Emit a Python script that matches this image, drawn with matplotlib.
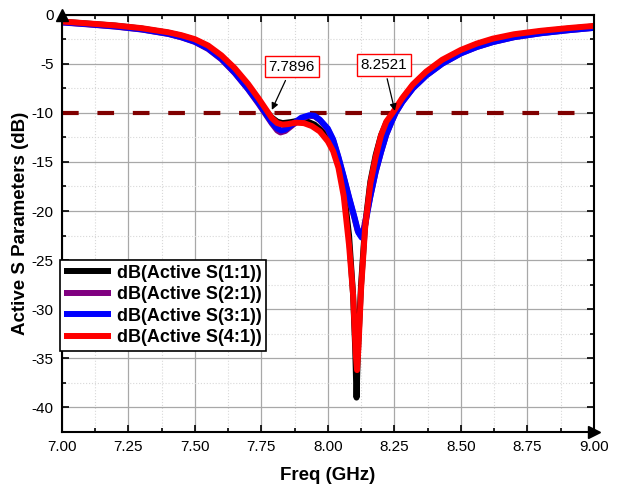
import numpy as np
import matplotlib.pyplot as plt
from matplotlib.ticker import MultipleLocator

plt.rcParams['font.family'] = ['Liberation Sans', 'DejaVu Sans']
plt.rcParams['axes.unicode_minus'] = False

# (GHz, dB)
f_s11 = [7.00, 7.10, 7.20, 7.30, 7.40, 7.45, 7.50, 7.55, 7.60, 7.65, 7.70, 7.74, 7.77, 7.79,
         7.81, 7.83, 7.86, 7.89, 7.92, 7.95, 7.98, 8.00, 8.02, 8.04, 8.06, 8.08, 8.095, 8.103,
         8.108, 8.113, 8.125, 8.14, 8.16, 8.18, 8.20, 8.22, 8.25, 8.28, 8.32, 8.37, 8.43, 8.50,
         8.56, 8.62, 8.70, 8.80, 8.90, 9.00]
s11 = [-0.72, -0.92, -1.12, -1.42, -1.85, -2.16, -2.58, -3.25, -4.3, -5.65, -7.25, -8.75, -9.9, -10.5,
       -10.9, -11.05, -10.95, -10.8, -10.85, -11.2, -11.9, -12.6, -13.6, -15.2, -17.8, -22.5, -28.5, -34.0,
       -39.0, -34.5, -27.5, -21.5, -17.0, -14.3, -12.3, -11.0, -9.95, -8.6, -7.2, -5.9, -4.7, -3.7,
       -3.05, -2.55, -2.1, -1.72, -1.45, -1.2]

f_s21 = [7.00, 7.10, 7.20, 7.30, 7.40, 7.45, 7.50, 7.55, 7.60, 7.65, 7.70, 7.74, 7.77, 7.79,
         7.81, 7.822, 7.84, 7.87, 7.90, 7.93, 7.95, 7.97, 8.00, 8.02, 8.04, 8.06, 8.08, 8.10,
         8.112, 8.122, 8.135, 8.16, 8.18, 8.20, 8.22, 8.24, 8.255, 8.28, 8.32, 8.37, 8.43, 8.50,
         8.56, 8.62, 8.70, 8.80, 8.90, 9.00]
s21 = [-0.8, -1.0, -1.22, -1.52, -1.97, -2.32, -2.78, -3.5, -4.55, -5.95, -7.6, -9.1, -10.3, -11.1,
       -11.8, -12.0, -11.85, -11.2, -10.6, -10.3, -10.35, -10.75, -11.7, -12.8, -14.6, -16.6, -18.7, -20.7,
       -22.0, -22.4, -21.8, -18.5, -16.0, -14.0, -12.2, -10.9, -10.0, -8.9, -7.5, -6.2, -5.0, -3.95,
       -3.3, -2.8, -2.3, -1.9, -1.6, -1.35]

f_s31 = [7.00, 7.10, 7.20, 7.30, 7.40, 7.45, 7.50, 7.55, 7.60, 7.65, 7.70, 7.74, 7.77, 7.79,
         7.81, 7.825, 7.84, 7.87, 7.90, 7.93, 7.95, 7.97, 8.00, 8.02, 8.04, 8.06, 8.08, 8.10,
         8.115, 8.127, 8.14, 8.16, 8.18, 8.20, 8.22, 8.24, 8.255, 8.28, 8.32, 8.37, 8.43, 8.50,
         8.56, 8.62, 8.70, 8.80, 8.90, 9.00]
s31 = [-0.78, -0.98, -1.2, -1.5, -1.95, -2.3, -2.75, -3.45, -4.5, -5.9, -7.55, -9.0, -10.2, -11.0,
       -11.6, -11.8, -11.7, -11.1, -10.5, -10.25, -10.3, -10.7, -11.6, -12.7, -14.5, -16.5, -18.6, -20.6,
       -22.2, -22.7, -21.5, -18.5, -16.0, -14.0, -12.2, -10.9, -10.0, -8.9, -7.5, -6.2, -5.0, -3.95,
       -3.3, -2.8, -2.3, -1.9, -1.6, -1.35]

f_s41 = [7.00, 7.10, 7.20, 7.30, 7.40, 7.45, 7.50, 7.55, 7.60, 7.65, 7.70, 7.74, 7.77, 7.79,
         7.81, 7.83, 7.85, 7.88, 7.91, 7.94, 7.97, 8.00, 8.02, 8.04, 8.06, 8.08, 8.095, 8.105,
         8.11, 8.115, 8.125, 8.14, 8.16, 8.18, 8.20, 8.22, 8.245, 8.28, 8.32, 8.37, 8.43, 8.50,
         8.56, 8.62, 8.70, 8.80, 8.90, 9.00]
s41 = [-0.70, -0.90, -1.10, -1.38, -1.80, -2.10, -2.50, -3.15, -4.15, -5.45, -7.05, -8.55, -9.75, -10.55,
       -11.05, -11.2, -11.15, -11.0, -11.05, -11.35, -11.9, -12.9, -13.9, -15.6, -18.5, -23.5, -28.5, -34.5,
       -36.2, -34.0, -28.0, -21.8, -17.2, -14.5, -12.3, -10.9, -9.95, -8.5, -7.1, -5.8, -4.6, -3.6,
       -2.95, -2.45, -2.0, -1.65, -1.38, -1.15]

labels = ['dB(Active S(1:1))', 'dB(Active S(2:1))', 'dB(Active S(3:1))', 'dB(Active S(4:1))']
colors = ['black', '#800080', '#0000ff', '#ff0000']

marks = [7.7896, 8.2521]
threshold = -10

fig = plt.figure(figsize=(6.31, 4.87), dpi=100)
ax = fig.add_axes([0.098, 0.113, 0.843, 0.857])

for fx, sy, lab, c in zip([f_s11, f_s21, f_s31, f_s41], [s11, s21, s31, s41], labels, colors):
    ax.plot(fx, sy, color=c, lw=4.3, label=lab, solid_capstyle='butt')

ax.axhline(threshold, color='#800000', lw=3, dashes=[4, 4.5], zorder=1)

ax.set_xlim(7.0, 9.0)
ax.set_ylim(-42.5, 0)
ax.xaxis.set_major_locator(MultipleLocator(0.25))
ax.xaxis.set_minor_locator(MultipleLocator(0.125))
ax.yaxis.set_major_locator(MultipleLocator(5))
ax.yaxis.set_minor_locator(MultipleLocator(2.5))
ax.xaxis.set_major_formatter(plt.FormatStrFormatter('%.2f'))
ax.tick_params(which='both', direction='in', top=True, right=True, labelsize=11, width=1.2)
ax.tick_params(which='major', length=5, pad=6)
ax.tick_params(which='minor', length=3)
ax.grid(which='major', color='#a8a8a8', lw=0.9)
ax.grid(which='minor', color='#d8d8d8', lw=0.8, ls=':')
ax.set_axisbelow(True)
for s in ax.spines.values():
    s.set_linewidth(1.5)

# arrow heads on the axes ends
ax.plot(1, 0, '>k', ms=8, transform=ax.transAxes, clip_on=False)
ax.plot(0, 1, '^k', ms=8, transform=ax.transAxes, clip_on=False)

ax.set_xlabel('Freq (GHz)', fontsize=13.5, fontweight='bold', labelpad=9)
ax.set_ylabel('Active S Parameters (dB)', fontsize=13.5, fontweight='bold', labelpad=2)

box = dict(boxstyle='square,pad=0.25', fc='white', ec='red', lw=1)
arr = dict(arrowstyle='-|>', color='black', lw=0.9, mutation_scale=10, shrinkA=2, shrinkB=0)
ax.annotate(f'{marks[0]:.4f}', xy=(marks[0], -9.7), xytext=(7.865, -5.3), fontsize=11,
            ha='center', va='center', bbox=box, arrowprops=arr)
ax.annotate(f'{marks[1]:.4f}', xy=(marks[1], -9.8), xytext=(8.2105, -5.1), fontsize=11,
            ha='center', va='center', bbox=box, arrowprops=arr)

leg = ax.legend(loc='upper left', bbox_to_anchor=(-0.004, 0.412), borderaxespad=0,
                prop={'weight': 'bold', 'size': 13}, fancybox=False, edgecolor='black',
                framealpha=1, handlelength=2.6, handletextpad=0.3, labelspacing=0.25,
                borderpad=0.25)
leg.get_frame().set_linewidth(1.2)

fig.savefig('out.png', dpi=100)
